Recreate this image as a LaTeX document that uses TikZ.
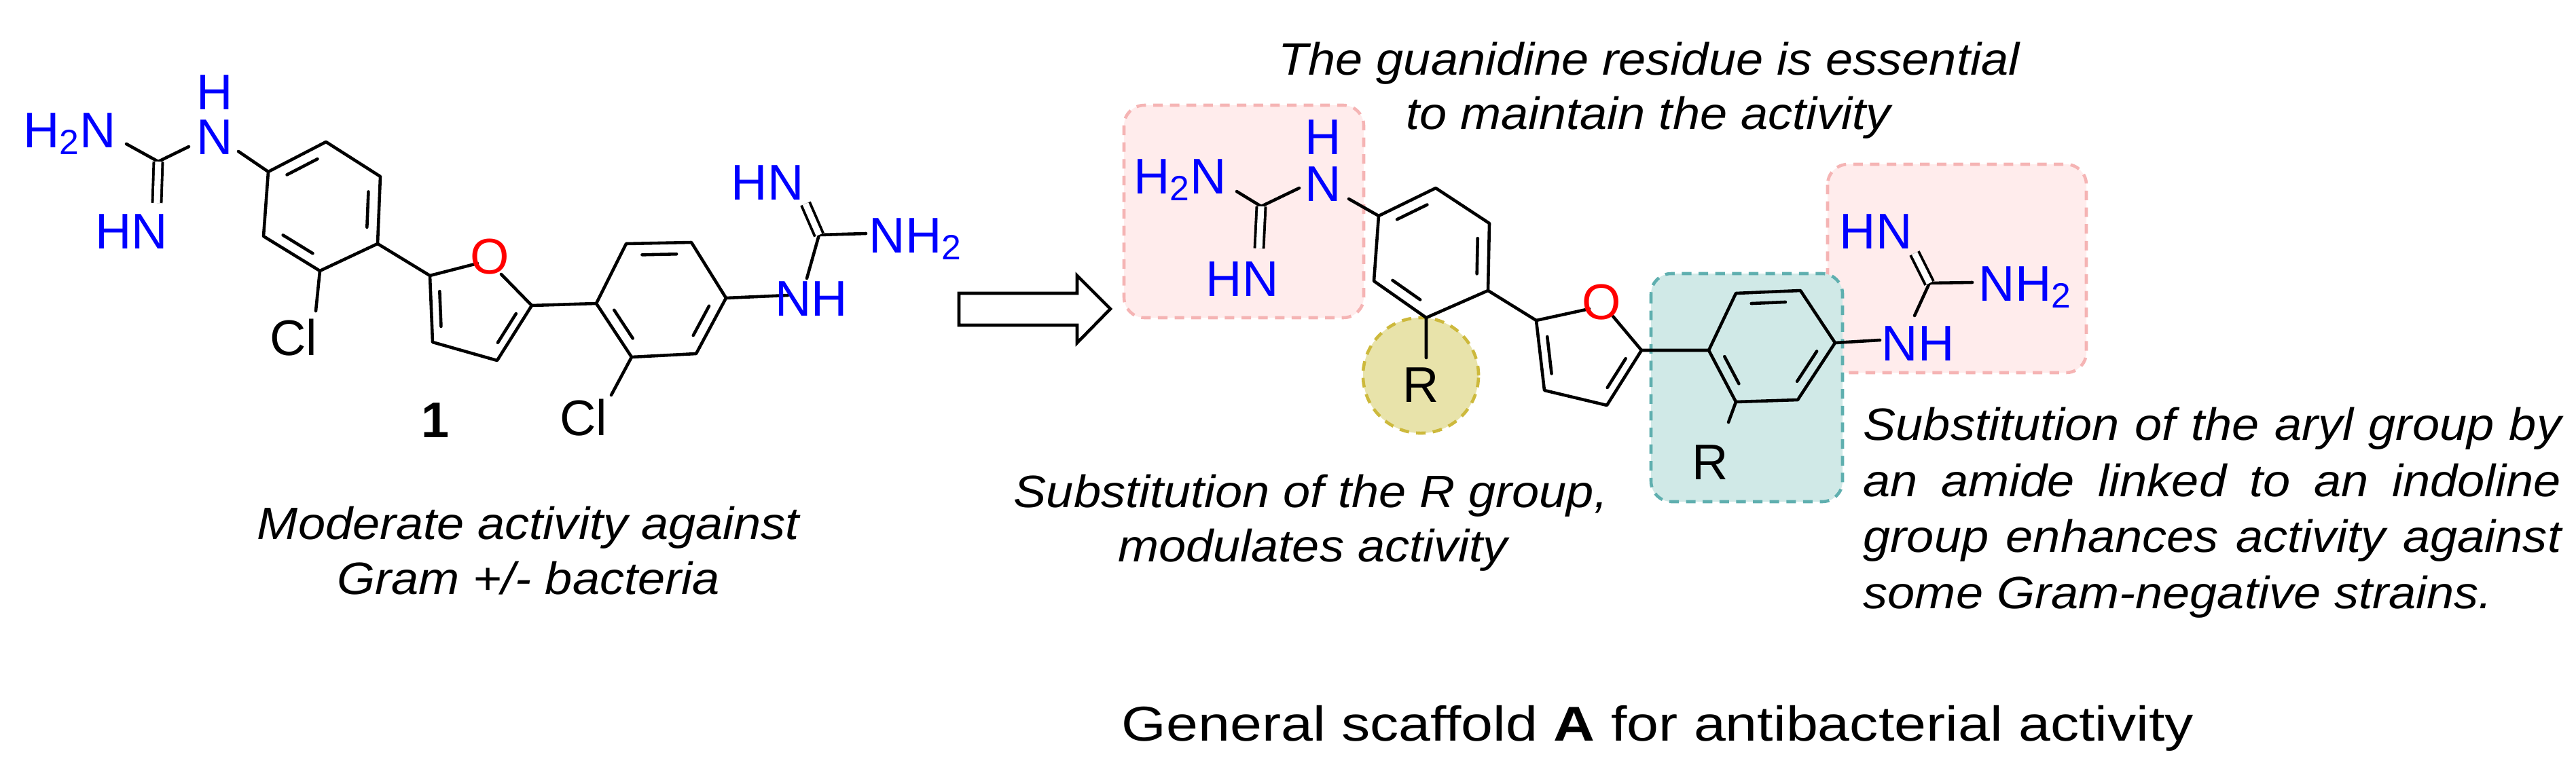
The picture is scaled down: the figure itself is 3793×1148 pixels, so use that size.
\documentclass[tikz,border=0pt]{standalone}
\usepackage{fontspec}
\setmainfont{Liberation Sans}
\newfontfamily\titlefont{Liberation Sans}[FakeStretch=1.17]
\newfontfamily\notefont{Liberation Sans}[FakeStretch=1.08]
\usetikzlibrary{calc}
\definecolor{atomblue}{RGB}{0,0,255}
\definecolor{pinkfill}{RGB}{255,236,236}
\definecolor{pinkline}{RGB}{245,180,180}
\definecolor{tealfill}{RGB}{208,233,231}
\definecolor{tealline}{RGB}{95,175,175}
\definecolor{yelfill}{RGB}{232,227,170}
\definecolor{yelline}{RGB}{205,185,60}
\tikzset{
 bond/.style={line width=1.3pt,line cap=round,line join=round},
 dbond/.style={line width=1.1pt,double,double distance=2.6pt},
 atom/.style={font=\fontsize{21}{21}\selectfont,text=atomblue,inner sep=0pt},
 batom/.style={font=\fontsize{21}{21}\selectfont,inner sep=0pt},
 note/.style={font=\notefont\fontsize{19}{23.2}\selectfont\itshape,inner sep=0pt},
 hbox/.style={line width=1.3pt,rounded corners=0.3cm,dash pattern=on 4pt off 3pt},
}
\newcommand\inb[3]{\draw[bond] ($($(#1)!0.17!(#2)$)!0.2!(#3)$) -- ($($(#2)!0.17!(#1)$)!0.2!(#3)$);}
\begin{document}
\begin{tikzpicture}[x=0.01cm,y=-0.01cm]
\useasboundingbox (0,0) rectangle (3793,1148);
% highlight boxes
\draw[hbox,pinkline,fill=pinkfill] (1655,155) rectangle (2008,468);
\draw[hbox,pinkline,fill=pinkfill] (2691,242) rectangle (3072,549);
\draw[hbox,tealline,fill=tealfill] (2431,403) rectangle (2713,739);
\draw[hbox,yelline,fill=yelfill] (2092,553) circle[radius=0.85cm];
%%%% LEFT MOLECULE
\coordinate (a) at (395,253); \coordinate (b) at (480,209); \coordinate (c) at (560,260);
\coordinate (d) at (556,359); \coordinate (e) at (471,399); \coordinate (f) at (388,348);
\coordinate (r1) at (475,305);
\coordinate (f2) at (633,406); \coordinate (fo) at (721,381); \coordinate (f5) at (783,450);
\coordinate (f4) at (732,531); \coordinate (f3) at (637,504); \coordinate (fc) at (702,455);
\coordinate (g) at (878,447); \coordinate (h) at (922,359); \coordinate (i) at (1018,357);
\coordinate (j) at (1069,439); \coordinate (k) at (1025,521); \coordinate (l) at (930,526);
\coordinate (r2) at (974,442);
\coordinate (gc1) at (233,238); \coordinate (gc2) at (1206,346);
\draw[bond] (a)--(b)--(c)--(d)--(e)--(f)--cycle;
\inb{a}{b}{r1}\inb{c}{d}{r1}\inb{e}{f}{r1}
\draw[bond] (g)--(h)--(i)--(j)--(k)--(l)--cycle;
\inb{h}{i}{r2}\inb{j}{k}{r2}\inb{l}{g}{r2}
\draw[bond] (f2)--(703,388) (738,404)--(f5)--(f4)--(f3)--(f2);
\inb{f2}{f3}{fc}\inb{f4}{f5}{fc}
\draw[bond] (d)--(f2) (f5)--(g);
\draw[bond] (186,212)--(gc1)--(278,216) (351,223)--(a);
\draw[dbond] (gc1)--(231,299);
\draw[bond] (e)--(465,458) (l)--(900,582);
\draw[bond] (j)--(1160,435) (1188,410)--(gc2)--(1275,344);
\draw[dbond] (gc2)--(1186,300);
\node[atom,anchor=base east] (lh2n) at (172,217) {H\textsubscript{2}N};
\node[atom,anchor=base] (ln1) at (316,227) {N};
\node[atom,anchor=base] (lh1) at (316,161) {H};
\node[atom,anchor=base] (lhn1) at (194,366) {HN};
\node[batom,anchor=base] (lcl1) at (432,523) {Cl};
\node[batom,text=red] (lo) at (721,378) {O};
\node[batom,anchor=base] (lcl2) at (859,641) {Cl};
\node[batom,anchor=base,font=\fontsize{21}{21}\selectfont\bfseries] (one) at (641,644) {1};
\node[atom] (lnh2) at (1195,440) {NH};
\node[atom,anchor=base west] (lnh2b) at (1279,372) {NH\textsubscript{2}};
\node[atom] (lhn2) at (1130,269) {HN};
\node[note,anchor=base] (lnote1) at (778,794) {Moderate activity against};
\node[note,anchor=base] (lnote2) at (778,875) {Gram +/- bacteria};
% arrow
\draw[line width=1.3pt,line join=miter] (1412,432)--(1586,432)--(1586,406)--(1635,455)--(1586,505)--(1586,479)--(1412,479)--cycle;
%%%% RIGHT MOLECULE
\coordinate (A) at (2030,318); \coordinate (B) at (2114,277); \coordinate (C) at (2193,329);
\coordinate (D) at (2191,428); \coordinate (E) at (2100,468); \coordinate (F) at (2023,414);
\coordinate (R1) at (2108,372);
\coordinate (F2) at (2262,472); \coordinate (FO) at (2358,447); \coordinate (F5) at (2417,516);
\coordinate (F4) at (2366,597); \coordinate (F3) at (2274,575); \coordinate (FC) at (2335,522);
\coordinate (G) at (2516,516); \coordinate (H) at (2556,432); \coordinate (I) at (2651,428);
\coordinate (J) at (2702,505); \coordinate (K) at (2647,589); \coordinate (L) at (2556,592);
\coordinate (R2) at (2605,510);
\coordinate (GC1) at (1857,304); \coordinate (GC2) at (2841,417);
\draw[bond] (A)--(B)--(C)--(D)--(E)--(F)--cycle;
\inb{A}{B}{R1}\inb{C}{D}{R1}\inb{E}{F}{R1}
\draw[bond] (G)--(H)--(I)--(J)--(K)--(L)--cycle;
\inb{H}{I}{R2}\inb{J}{K}{R2}\inb{L}{G}{R2}
\draw[bond] (F2)--(2340,455) (2375,466)--(F5)--(F4)--(F3)--(F2);
\inb{F2}{F3}{FC}\inb{F4}{F5}{FC}
\draw[bond] (D)--(F2) (F5)--(G);
\draw[bond] (1821,282)--(GC1)--(1913,277) (1986,293)--(A);
\draw[dbond] (GC1)--(1854,366);
\draw[bond] (E)--(2100,527) (L)--(2545,622);
\draw[bond] (J)--(2768,501) (2819,465)--(GC2)--(2904,416);
\draw[dbond] (GC2)--(2819,373);
\node[atom,anchor=base east] (rh2n) at (1807,285) {H\textsubscript{2}N};
\node[atom,anchor=base] (rn1) at (1948,296) {N};
\node[atom,anchor=base] (rh1) at (1948,227) {H};
\node[atom,anchor=base] (rhn1) at (1829,436) {HN};
\node[batom,text=red] (ro) at (2358,445) {O};
\node[batom,anchor=base] (rr1) at (2092,592) {R};
\node[batom,anchor=base] (rr2) at (2518,706) {R};
\node[atom,anchor=base] (rnh) at (2824,531) {NH};
\node[atom,anchor=base west] (rnh2) at (2913,443) {NH\textsubscript{2}};
\node[atom,anchor=base] (rhn2) at (2762,366) {HN};
% notes
\node[note,anchor=base] (tnote1) at (2428,110) {The guanidine residue is essential};
\node[note,anchor=base] (tnote2) at (2427,190) {to maintain the activity};
\node[note,anchor=base] (mnote1) at (1930,747) {Substitution of the R group,};
\node[note,anchor=base] (mnote2) at (1933,827) {modulates activity};
\node[note,anchor=base west,text width=10.27cm,align=justify,font=\notefont\fontsize{19}{23.6}\selectfont\itshape] (rnote) at (2743,648) {Substitution of the aryl group by\linebreak an amide linked to an indoline\linebreak group enhances activity against\linebreak some Gram-negative strains.};
\node[inner sep=0pt,font=\titlefont\fontsize{20.5}{21}\selectfont,anchor=base] (title) at (2441,1091) {General scaffold \textbf{A} for antibacterial activity};
\end{tikzpicture}
\end{document}
